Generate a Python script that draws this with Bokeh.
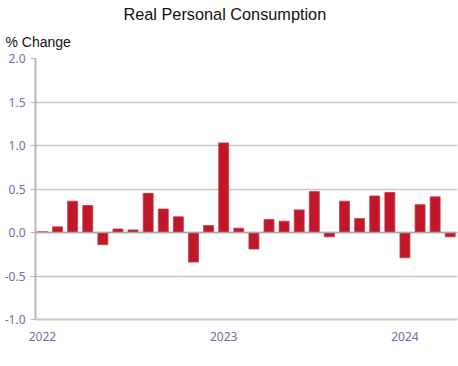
from bokeh.plotting import figure
from bokeh.models import Title, Span, FixedTicker, ColumnDataSource, CustomJSTickFormatter
from bokeh.embed import file_html
from bokeh.resources import INLINE

# Monthly % change, Jan 2022 .. Apr 2024
months = ["2022-01", "2022-02", "2022-03", "2022-04", "2022-05", "2022-06",
          "2022-07", "2022-08", "2022-09", "2022-10", "2022-11", "2022-12",
          "2023-01", "2023-02", "2023-03", "2023-04", "2023-05", "2023-06",
          "2023-07", "2023-08", "2023-09", "2023-10", "2023-11", "2023-12",
          "2024-01", "2024-02", "2024-03", "2024-04"]
values = [0.01, 0.065, 0.36, 0.31, -0.14, 0.04, 0.03, 0.45, 0.27, 0.18, -0.34, 0.08,
          1.03, 0.05, -0.19, 0.15, 0.13, 0.26, 0.47, -0.05, 0.36, 0.16, 0.42, 0.46,
          -0.29, 0.32, 0.41, -0.05]
year_tick_index = [0, 12, 24]
year_labels = ["2022", "2023", "2024"]
y_ticks = [-1.0, -0.5, 0.0, 0.5, 1.0, 1.5, 2.0]

idx = list(range(len(months)))
src = ColumnDataSource(dict(x=idx, top=values, month=months))

LABEL_COLOR = "#6e6ea8"
GRID = "#c8c8c8"

p = figure(width=458, height=360, output_backend="svg", toolbar_location=None,
           x_range=(-0.46, len(months) - 0.52), y_range=(-1.0, 2.0),
           min_border_left=35, min_border_right=1, min_border_top=58, min_border_bottom=41)
p.title = None
p.outline_line_color = None

p.add_layout(Title(text="% Change", align="left", offset=-30, text_font="Liberation Sans",
                   text_font_size="14px", text_font_style="normal", text_color="#111111",
                   standoff=17), "above")
p.add_layout(Title(text="Real Personal Consumption", align="left", offset=88,
                   text_font="Liberation Sans", text_font_size="16.3px",
                   text_font_style="normal", text_color="#111111", standoff=2), "above")

p.vbar(x="x", top="top", bottom=0, width=0.66, source=src,
       fill_color="#c0182a", line_color="#c83a48", line_width=0.8)

p.add_layout(Span(location=0, dimension="width", line_color="#a8a8a8", line_width=1.5))

p.yaxis.ticker = FixedTicker(ticks=y_ticks)
p.yaxis.formatter = CustomJSTickFormatter(code="return tick.toFixed(1);")
p.yaxis.axis_line_color = "#b8b8b8"
p.yaxis.axis_line_width = 2
p.yaxis.major_tick_line_color = "#b8b8b8"
p.yaxis.major_tick_out = 5
p.yaxis.major_tick_in = 0
p.yaxis.minor_tick_line_color = None
p.yaxis.major_label_standoff = 5
p.yaxis.major_label_text_color = LABEL_COLOR
p.yaxis.major_label_text_font = "Noto Sans"
p.yaxis.major_label_text_font_size = "12px"

p.xaxis.ticker = FixedTicker(ticks=year_tick_index)
p.xaxis.major_label_overrides = {i: l for i, l in zip(year_tick_index, year_labels)}
p.xaxis.axis_line_color = "#c8c8c8"
p.xaxis.axis_line_width = 2
p.xaxis.major_tick_line_color = None
p.xaxis.minor_tick_line_color = None
p.xaxis.major_label_standoff = 6
p.xaxis.major_label_text_color = LABEL_COLOR
p.xaxis.major_label_text_font = "Noto Sans"
p.xaxis.major_label_text_font_size = "12px"

p.xgrid.grid_line_color = None
p.ygrid.grid_line_color = GRID
p.ygrid.grid_line_width = 1.5

open("out.html", "w").write(file_html(p, INLINE))
